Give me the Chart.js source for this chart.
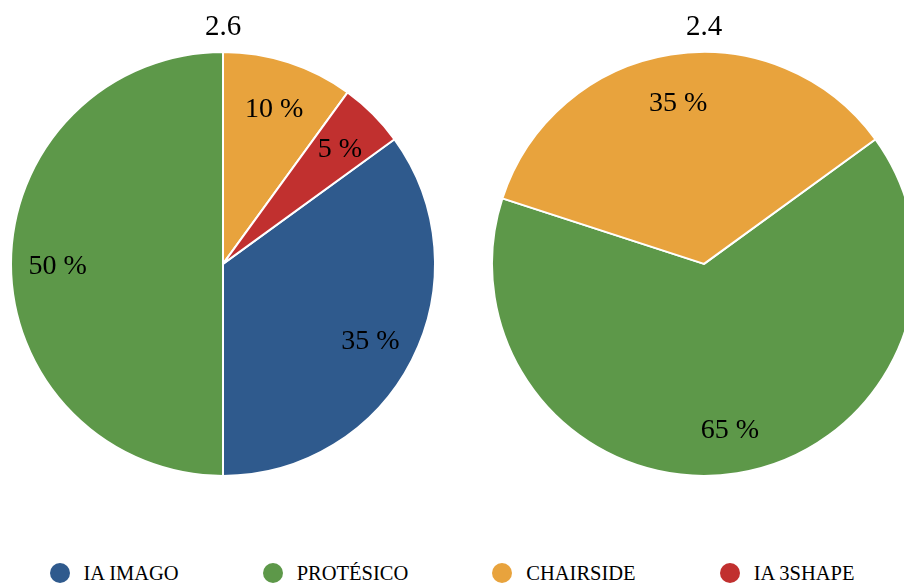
<!DOCTYPE html>
<html>
<head>
<meta charset="utf-8">
<script src="https://cdn.jsdelivr.net/npm/chart.js@4.4.1/dist/chart.umd.min.js"></script>
<style>
    html, body { margin: 0; padding: 0; background: #fff; }
    body { width: 904px; height: 584px; overflow: hidden; position: relative; font-family: 'Liberation Serif', 'Times New Roman', serif; }
    .pie { position: absolute; top: 0; width: 446px; height: 480px; }
    #legend { position: absolute; left: 0; top: 561px; width: 904px; height: 24px; display: flex; justify-content: center; align-items: center; gap: 84px; }
    .item { display: flex; align-items: center; font-size: 20.5px; color: #000; white-space: nowrap; }
    .dot { width: 20px; height: 20px; border-radius: 50%; margin-right: 14px; }
</style>
</head>
<body>
<div class="pie" style="left:0"><canvas id="pieLeft"></canvas></div>
<div class="pie" style="left:481px"><canvas id="pieRight"></canvas></div>
<div id="legend"></div>
<script>
const categories = ['IA IMAGO', 'PROTÉSICO', 'CHAIRSIDE', 'IA 3SHAPE'];
const colors = ['#2F5A8D', '#5D9849', '#E8A33D', '#C1302F'];
const titles = ['2.6', '2.4'];
const valuesLeft = [35, 50, 10, 5];
const valuesRight = [0, 65, 35, 0];

const FONT = "'Liberation Serif', 'Times New Roman', serif";

const sliceLabels = {
    id: 'sliceLabels',
    afterDatasetsDraw(chart) {
        const ctx = chart.ctx;
        const meta = chart.getDatasetMeta(0);
        const data = chart.data.datasets[0].data;
        ctx.save();
        ctx.font = `28px ${FONT}`;
        ctx.fillStyle = '#000';
        ctx.textAlign = 'center';
        ctx.textBaseline = 'middle';
        meta.data.forEach((arc, i) => {
            if (!data[i]) return;
            const p = arc.getProps(['x', 'y', 'startAngle', 'endAngle', 'outerRadius'], true);
            const mid = (p.startAngle + p.endAngle) / 2;
            const r = p.outerRadius * 0.78;
            // serif glyphs sit a bit high with 'middle', nudge down
            ctx.fillText(`${data[i]} %`, p.x + Math.cos(mid) * r, p.y + Math.sin(mid) * r + 3);
        });
        ctx.restore();
    }
};

function makePie(canvasId, values, title) {
    return new Chart(document.getElementById(canvasId), {
        type: 'pie',
        data: {
            labels: categories,
            datasets: [{
                data: values,
                backgroundColor: colors,
                borderColor: '#fff',
                borderWidth: 2,
                hoverOffset: 0,
                offset: 0
            }]
        },
        options: {
            responsive: true,
            maintainAspectRatio: false,
            animation: false,
            events: [],
            rotation: 54,
            layout: { padding: { left: 10, right: 10, top: 0, bottom: 3 } },
            plugins: {
                legend: { display: false },
                tooltip: { enabled: false },
                title: {
                    display: true,
                    text: title,
                    color: '#000',
                    font: { family: FONT, size: 29, weight: 'normal' },
                    padding: { top: 10, bottom: 6 }
                }
            }
        },
        plugins: [sliceLabels]
    });
}

makePie('pieLeft', valuesLeft, titles[0]);
makePie('pieRight', valuesRight, titles[1]);

// shared legend under both pies
document.getElementById('legend').innerHTML = categories.map((c, i) =>
    `<div class="item"><span class="dot" style="background:${colors[i]}"></span>${c}</div>`
).join('');
</script>
</body>
</html>
